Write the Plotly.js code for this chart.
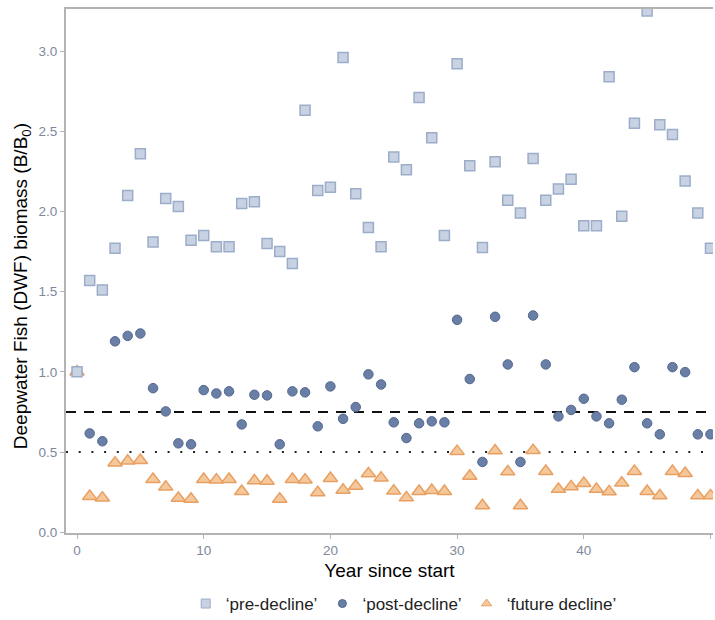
<!DOCTYPE html>
<html>
<head>
<meta charset="utf-8">
<script src="https://cdn.plot.ly/plotly-3.0.1.min.js"></script>
<style>html,body{margin:0;padding:0;background:#fff;}#chart{width:715px;height:620px;}</style>
</head>
<body>
<div id="chart"></div>
<script>
const years = Array.from({length: 51}, (_, i) => i);
const preDecline = [1.00,1.57,1.51,1.77,2.10,2.36,1.81,2.08,2.03,1.82,1.85,1.78,1.78,2.05,2.06,1.80,1.75,1.675,2.63,2.13,2.15,2.96,2.11,1.90,1.78,2.34,2.26,2.71,2.46,1.85,2.92,2.285,1.775,2.31,2.07,1.99,2.33,2.07,2.14,2.20,1.91,1.91,2.84,1.97,2.55,3.25,2.54,2.48,2.19,1.99,1.77];
const postDecline = [1.00,0.616,0.567,1.19,1.224,1.239,0.898,0.753,0.554,0.548,0.886,0.865,0.878,0.672,0.857,0.853,0.548,0.878,0.872,0.66,0.909,0.707,0.78,0.984,0.921,0.685,0.587,0.679,0.691,0.685,1.324,0.955,0.438,1.343,1.046,0.438,1.351,1.046,0.722,0.762,0.832,0.722,0.679,0.826,1.029,0.679,0.61,1.029,0.998,0.61,0.61];
const futureDecline = [1.00,0.224,0.214,0.432,0.444,0.448,0.33,0.282,0.212,0.207,0.33,0.326,0.33,0.255,0.321,0.319,0.207,0.33,0.326,0.247,0.336,0.263,0.288,0.365,0.338,0.257,0.215,0.255,0.261,0.255,0.504,0.35,0.166,0.508,0.377,0.166,0.51,0.38,0.268,0.284,0.305,0.268,0.253,0.307,0.38,0.255,0.228,0.38,0.367,0.228,0.228];
const seriesNames = ["\u2018pre-decline\u2019", "\u2018post-decline\u2019", "\u2018future decline\u2019"];
const dashedLevel = 0.75;
const dottedLevel = 0.5;
const xTicks = [0, 10, 20, 30, 40, 50];
const yTicks = [0.0, 0.5, 1.0, 1.5, 2.0, 2.5, 3.0];
const xTitle = 'Year since start';
const yTitle = 'Deepwater Fish (DWF) biomass (B/B<sub>0</sub>)';

const traces = [
  {x: years, y: futureDecline, name: seriesNames[2], type: 'scatter', mode: 'markers',
   marker: {symbol: 'triangle-up', size: 12.5, color: '#f5c89b', line: {color: '#e8a062', width: 1.5}}, showlegend: false},
  {x: years, y: postDecline, name: seriesNames[1], type: 'scatter', mode: 'markers',
   marker: {symbol: 'circle', size: 9.5, color: '#6a7fa6', line: {color: '#53678f', width: 1}}, showlegend: false},
  {x: years, y: preDecline, name: seriesNames[0], type: 'scatter', mode: 'markers',
   marker: {symbol: 'square', size: 10, color: '#c8d2e2', line: {color: '#9badc9', width: 1.5}}, showlegend: false},
  // legend entries
  {x: [null], y: [null], name: seriesNames[0], type: 'scatter', mode: 'markers',
   marker: {symbol: 'square', size: 9, color: '#c8d2e2', line: {color: '#9badc9', width: 1}}},
  {x: [null], y: [null], name: seriesNames[1], type: 'scatter', mode: 'markers',
   marker: {symbol: 'circle', size: 8, color: '#6a7fa6', line: {color: '#53678f', width: 1}}},
  {x: [null], y: [null], name: seriesNames[2], type: 'scatter', mode: 'markers',
   marker: {symbol: 'triangle-up', size: 9, color: '#f5c89b', line: {color: '#e8a062', width: 1}}}
];

const layout = {
  width: 715, height: 620,
  margin: {l: 66, r: 2, t: 9, b: 87, autoexpand: false},
  paper_bgcolor: '#ffffff', plot_bgcolor: '#ffffff',
  font: {family: 'Liberation Sans, Arial, sans-serif', color: '#000'},
  xaxis: {
    range: [-0.87, 50.2], tickvals: xTicks, ticktext: xTicks.map(String),
    showgrid: false, zeroline: false, showline: true, linecolor: '#b3b3b3', linewidth: 2, mirror: true,
    ticks: 'outside', ticklen: 4, tickcolor: '#b3b3b3', tickwidth: 1,
    tickfont: {size: 13.5, color: '#7d889c'},
    title: {text: xTitle, font: {size: 19, color: '#000'}, standoff: 6}
  },
  yaxis: {
    range: [-0.005, 3.262], tickvals: yTicks, ticktext: yTicks.map(v => v.toFixed(1)),
    showgrid: false, zeroline: false, showline: true, linecolor: '#b3b3b3', linewidth: 2,
    ticks: 'outside', ticklen: 4, tickcolor: '#b3b3b3', tickwidth: 1,
    tickfont: {size: 13.5, color: '#7d889c'}
  },
  annotations: [
    {text: yTitle, xref: 'paper', yref: 'paper', x: -0.068, y: 0.471, xanchor: 'center', yanchor: 'middle',
     textangle: -90, showarrow: false, font: {size: 19, color: '#000'}}
  ],
  shapes: [
    {type: 'line', xref: 'paper', x0: 0, x1: 1, yref: 'y', y0: dashedLevel, y1: dashedLevel,
     line: {color: '#111', width: 2, dash: '10px,8px'}, layer: 'below'},
    {type: 'line', xref: 'paper', x0: 0, x1: 1, yref: 'y', y0: dottedLevel, y1: dottedLevel,
     line: {color: '#222', width: 2, dash: '2px,10.7px'}, layer: 'below'}
  ],
  legend: {orientation: 'h', x: 0.522, xanchor: 'center', y: -0.1355, yanchor: 'middle',
    font: {size: 17, color: '#222'}, itemwidth: 20, bgcolor: 'rgba(0,0,0,0)'},
  showlegend: true
};

Plotly.newPlot('chart', traces, layout, {displayModeBar: false, staticPlot: true});
</script>
</body>
</html>
